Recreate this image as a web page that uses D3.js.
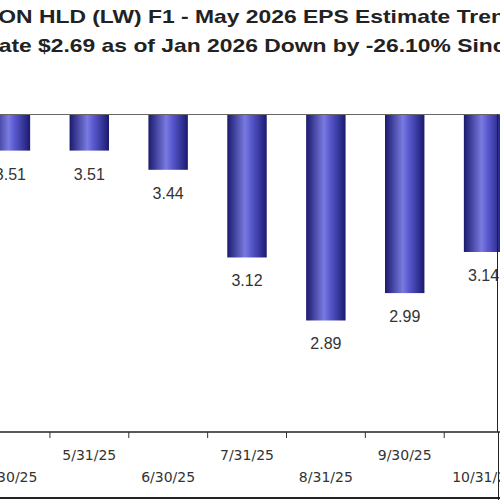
<!DOCTYPE html><html><head><script src="https://cdn.jsdelivr.net/npm/d3@7"></script>
<style>body{margin:0;background:#fff}</style></head><body><svg id="c" width="500" height="500"></svg>
<script>
const dates=["4/30/25","5/31/25","6/30/25","7/31/25","8/31/25","9/30/25","10/31/25"];
const values=[3.51,3.51,3.44,3.12,2.89,2.99,3.14];
const title1="LAMB WESTON HLD (LW) F1 - May 2026 EPS Estimate Trend";
const title2="Current Estimate $2.69 as of Jan 2026 Down by -26.10% Since Apr 2025";
const svg=d3.select("#c");
const defs=svg.append("defs");
const g=defs.append("linearGradient").attr("id","bg").attr("x1",0).attr("x2",1);
[[0,"#1a1a6e"],[0.45,"#7a7ae0"],[0.6,"#5a5ad0"],[1,"#1a1a70"]].forEach(s=>g.append("stop").attr("offset",s[0]).attr("stop-color",s[1]));
const x=d3.scaleBand().domain(dates).range([-29,523]).paddingInner(0.5).paddingOuter(0.25);
const y=d3.scaleLinear().domain([3.64,2.483]).range([115,432]);
function tl(txt,prefix,yy){
  const gg=svg.append("g").attr("transform",`translate(0,${yy}) scale(1.27,1)`);
  const t=gg.append("text").attr("font-family","Liberation Sans, Arial").attr("font-weight","bold").attr("font-size",18).attr("fill","#222").text(prefix);
  const w=t.node().getComputedTextLength();t.text(txt).attr("x",-w-1);
}
tl(title1,"LAMB WEST",23);
tl(title2,"Current Estim",52);
svg.selectAll("rect.b").data(values).join("rect").attr("x",(d,i)=>x(dates[i])).attr("width",x.bandwidth())
 .attr("y",115).attr("height",d=>y(d)-115).attr("fill","url(#bg)");
svg.selectAll("text.v").data(values).join("text").attr("x",(d,i)=>x(dates[i])+x.bandwidth()/2).attr("y",d=>y(d)+29)
 .attr("text-anchor","middle").attr("font-family","Liberation Sans, Arial").attr("font-size",16).attr("fill","#333").text(d=>d.toFixed(2));
svg.append("line").attr("x1",0).attr("x2",500).attr("y1",114.5).attr("y2",114.5).attr("stroke","#666");
svg.append("line").attr("x1",0).attr("x2",500).attr("y1",432).attr("y2",432).attr("stroke","#222").attr("stroke-width",1.5);
svg.append("line").attr("x1",497.5).attr("x2",497.5).attr("y1",114).attr("y2",432).attr("stroke","#222");
svg.append("line").attr("x1",0).attr("x2",500).attr("y1",498).attr("y2",498).attr("stroke","#222").attr("stroke-width",2);
svg.append("line").attr("x1",498.5).attr("x2",498.5).attr("y1",432).attr("y2",500).attr("stroke","#222");
dates.forEach((d,i)=>{const cx=x(d)+x.bandwidth()/2;
 svg.append("line").attr("x1",cx+39.5).attr("x2",cx+39.5).attr("y1",432).attr("y2",438).attr("stroke","#333");
 svg.append("text").attr("x",cx).attr("y",i%2?460:482).attr("text-anchor","middle").attr("font-family","DejaVu Sans").attr("font-size",14).attr("fill","#333").text(d);});
</script></body></html>
